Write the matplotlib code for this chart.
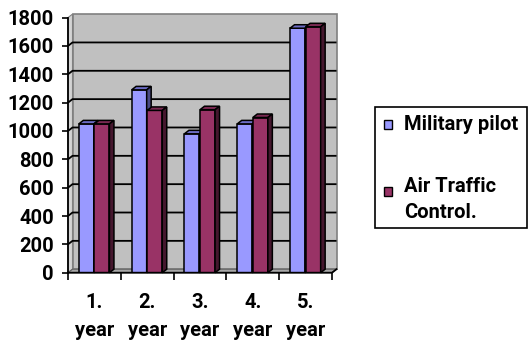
import matplotlib
matplotlib.use("Agg")
import matplotlib.pyplot as plt
from matplotlib.patches import Polygon, Rectangle
import matplotlib.transforms as mtransforms

categories = ["1.", "2.", "3.", "4.", "5."]
military_pilot = [1050, 1290, 980, 1050, 1725]
air_traffic = [1050, 1145, 1150, 1095, 1735]
series_names = ["Military pilot", "Air Traffic\nControl."]
yticks = [0, 200, 400, 600, 800, 1000, 1200, 1400, 1600, 1800]

W, H = 529, 343
FONT = ["Roboto", "DejaVu Sans"]
FS = 14.5

fig = plt.figure(figsize=(W / 100, H / 100), dpi=100)
fig.patch.set_facecolor("white")

# front plane of the plot, in pixels
left, right, bottom, top = 68, 332, 272.7, 17.6
ax = fig.add_axes([left / W, 1 - bottom / H, (right - left) / W, (bottom - top) / H])
ax.set_xlim(0.5, 5.5)
ax.set_ylim(0, 1800)
ax.patch.set_visible(False)
for s in ax.spines.values():
    s.set_visible(False)

# depth of the fake 3d box, converted to data units
dx_px, dy_px = 4.5, 3.5
ddx = dx_px / ((right - left) / 5)
ddy = dy_px / ((bottom - top) / 1800)

# back wall, left wall and floor
ax.add_patch(Polygon([(0.5 + ddx, ddy), (5.5 + ddx, ddy), (5.5 + ddx, 1800 + ddy), (0.5 + ddx, 1800 + ddy)],
                     closed=True, facecolor="#c0c0c0", edgecolor="#808080", lw=1.2, zorder=0, clip_on=False))
ax.add_patch(Polygon([(0.5, 0), (0.5 + ddx, ddy), (0.5 + ddx, 1800 + ddy), (0.5, 1800)],
                     closed=True, facecolor="#d4d4d4", edgecolor="#808080", lw=0.8, zorder=0, clip_on=False))
ax.add_patch(Polygon([(0.5, 0), (5.5, 0), (5.5 + ddx, ddy), (0.5 + ddx, ddy)],
                     closed=True, facecolor="#a8a8a8", edgecolor="#606060", lw=0.8, zorder=0, clip_on=False))

# gridlines on the walls
for v in yticks[1:-1]:
    ax.plot([0.5, 0.5 + ddx, 5.5 + ddx], [v, v + ddy, v + ddy], color="black", lw=1.3, zorder=1,
            clip_on=False, solid_capstyle="butt")


def draw_bar(x0, w, v, front, top_c, side_c):
    ax.add_patch(Rectangle((x0, 0), w, v, facecolor=front, edgecolor="black", lw=1.1, zorder=3))
    ax.add_patch(Polygon([(x0, v), (x0 + w, v), (x0 + w + ddx, v + ddy), (x0 + ddx, v + ddy)],
                         closed=True, facecolor=top_c, edgecolor="black", lw=1.1, zorder=3, clip_on=False))
    ax.add_patch(Polygon([(x0 + w, 0), (x0 + w + ddx, ddy), (x0 + w + ddx, v + ddy), (x0 + w, v)],
                         closed=True, facecolor=side_c, edgecolor="black", lw=1.1, zorder=3, clip_on=False))


bw = 0.285
for i in range(len(categories)):
    c = i + 1
    draw_bar(c - bw - 0.01, bw, military_pilot[i], "#9999ff", "#6b6bc4", "#4a4a85")
    draw_bar(c, bw, air_traffic[i], "#993366", "#7a2952", "#45172e")

# front axes lines with ticks
ax.plot([0.5, 0.5], [0, 1800], color="black", lw=1.3, zorder=4, clip_on=False)
ax.plot([0.5, 5.5, 5.5 + ddx], [0, 0, ddy], color="black", lw=1.3, zorder=4, clip_on=False)
ax.set_yticks(yticks)
ax.set_yticklabels([str(t) for t in yticks], fontfamily=FONT, fontweight="bold", fontsize=FS)
ax.tick_params(axis="y", direction="out", length=4, width=1.2, pad=6)
ax.set_xticks([0.5, 1.5, 2.5, 3.5, 4.5, 5.5])
ax.set_xticklabels([])
ax.tick_params(axis="x", direction="out", length=5, width=1.2)

# category labels on two lines
trans = mtransforms.blended_transform_factory(ax.transData, fig.transFigure)
for i, cat in enumerate(categories):
    ax.text(i + 1, 1 - 303 / H, cat, transform=trans, ha="center", va="center",
            fontfamily=FONT, fontweight="bold", fontsize=FS)
    ax.text(i + 1, 1 - 331 / H, "year", transform=trans, ha="center", va="center",
            fontfamily=FONT, fontweight="bold", fontsize=FS)

# legend box
fig.patches.append(Rectangle((375 / W, 1 - 228 / H), 152 / W, 121 / H, transform=fig.transFigure,
                             facecolor="white", edgecolor="black", lw=1.2))
fig.patches.append(Rectangle((383.5 / W, 1 - 128.5 / H), 8.5 / W, 8.5 / H, transform=fig.transFigure,
                             facecolor="#9999ff", edgecolor="black", lw=1.0))
fig.patches.append(Rectangle((383.5 / W, 1 - 195.5 / H), 8.5 / W, 8.5 / H, transform=fig.transFigure,
                             facecolor="#993366", edgecolor="black", lw=1.0))
fig.text(404 / W, 1 - 124.5 / H, series_names[0], ha="left", va="center",
         fontfamily=FONT, fontweight="bold", fontsize=FS)
name2 = series_names[1].split("\n")
fig.text(404 / W, 1 - 187 / H, name2[0], ha="left", va="center",
         fontfamily=FONT, fontweight="bold", fontsize=FS)
fig.text(404 / W, 1 - 212 / H, name2[1], ha="left", va="center",
         fontfamily=FONT, fontweight="bold", fontsize=FS)

fig.savefig("out.png", dpi=100)
